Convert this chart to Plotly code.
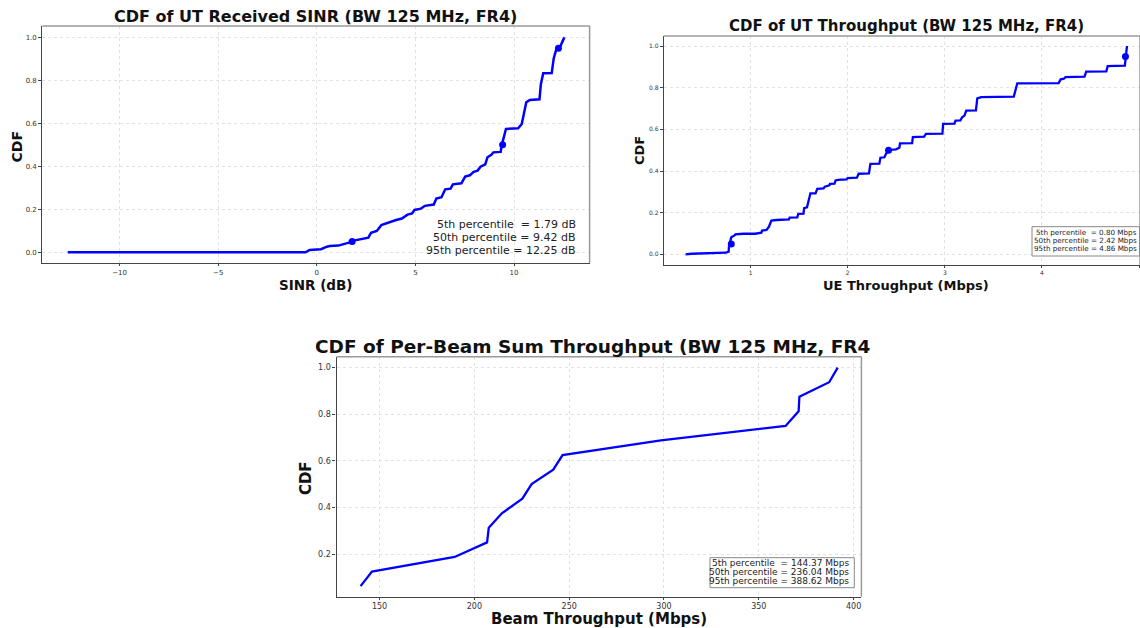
import plotly.graph_objects as go

# ---------------- data ----------------
# CDF of UT received SINR (polyline vertices)
sinr_db = [-12.63, -0.57, -0.37, 0.21, 0.51, 0.66, 1.09, 1.38, 1.72, 1.87, 2.26, 2.61, 2.75, 3.04,
           3.27, 3.53, 3.72, 4.02, 4.31, 4.60, 4.83, 4.95, 5.28, 5.48, 5.93, 6.06, 6.32, 6.51, 6.78,
           6.90, 7.33, 7.52, 7.76, 7.95, 8.15, 8.30, 8.54, 8.65, 8.85, 8.95, 9.32, 9.38, 9.59, 10.21,
           10.39, 10.51, 10.62, 10.80, 11.29, 11.36, 11.48, 11.91, 12.01, 12.14, 12.32, 12.44, 12.55]
sinr_cdf = [0.0, 0.0, 0.011, 0.014, 0.026, 0.029, 0.031, 0.037, 0.047, 0.054, 0.060, 0.068, 0.091, 0.099,
            0.126, 0.135, 0.141, 0.150, 0.157, 0.175, 0.181, 0.197, 0.203, 0.216, 0.222, 0.250, 0.256, 0.293, 0.296,
            0.316, 0.321, 0.352, 0.358, 0.374, 0.380, 0.398, 0.409, 0.442, 0.453, 0.465, 0.467, 0.500, 0.574, 0.577,
            0.597, 0.654, 0.698, 0.709, 0.712, 0.783, 0.833, 0.834, 0.902, 0.944, 0.952, 0.978, 1.0]
sinr_pct_values = [1.79, 9.42, 12.25]
pct_levels = [0.05, 0.50, 0.95]
sinr_pct_labels = ["5th percentile\u00a0 = 1.79 dB", "50th percentile = 9.42 dB", "95th percentile = 12.25 dB"]

# CDF of UT throughput (Mbps)
ut_tput = [0.329, 0.389, 0.744, 0.773, 0.776, 0.800, 0.833, 0.844, 0.922, 1.046, 1.110, 1.117, 1.163, 1.188,
           1.213, 1.266, 1.394, 1.401, 1.480, 1.490, 1.544, 1.550, 1.580, 1.597, 1.615, 1.668, 1.686, 1.750,
           1.764, 1.810, 1.817, 1.863, 1.874, 1.899, 1.988, 1.998, 2.094, 2.112, 2.218, 2.233, 2.325, 2.336,
           2.378, 2.396, 2.432, 2.496, 2.531, 2.538, 2.663, 2.670, 2.787, 2.805, 2.975, 2.982, 3.099, 3.110,
           3.160, 3.178, 3.202, 3.220, 3.320, 3.334, 3.373, 3.710, 3.728, 3.746, 4.172, 4.193, 4.225, 4.243,
           4.438, 4.456, 4.663, 4.677, 4.854, 4.861, 4.876]
ut_cdf = [0.0, 0.003, 0.008, 0.013, 0.037, 0.082, 0.091, 0.096, 0.099, 0.099, 0.104, 0.114, 0.117, 0.133,
          0.162, 0.165, 0.168, 0.176, 0.178, 0.194, 0.195, 0.222, 0.226, 0.253, 0.293, 0.293, 0.314, 0.317,
          0.325, 0.331, 0.338, 0.339, 0.355, 0.358, 0.360, 0.366, 0.368, 0.387, 0.389, 0.434, 0.435, 0.464,
          0.466, 0.485, 0.501, 0.504, 0.512, 0.533, 0.534, 0.563, 0.565, 0.578, 0.579, 0.626, 0.627, 0.642,
          0.643, 0.658, 0.666, 0.690, 0.691, 0.749, 0.755, 0.757, 0.792, 0.821, 0.822, 0.840, 0.843, 0.851,
          0.853, 0.877, 0.878, 0.904, 0.906, 0.949, 1.0]
ut_pct_values = [0.80, 2.42, 4.86]
ut_pct_labels = ["5th percentile\u00a0 = 0.80 Mbps", "50th percentile = 2.42 Mbps", "95th percentile = 4.86 Mbps"]

# CDF of per-beam sum throughput (Mbps)
beam_tput = [140.0, 146.0, 189.6, 206.7, 207.6, 214.5, 225.3, 230.2, 241.6, 246.5, 298.4, 364.1, 371.0,
             371.4, 387.1, 391.6]
beam_cdf = [0.0625, 0.125, 0.1875, 0.25, 0.3125, 0.375, 0.4375, 0.5, 0.5625, 0.625, 0.6875, 0.75, 0.8125,
            0.875, 0.9375, 1.0]
beam_pct_labels = ["5th percentile\u00a0 = 144.37 Mbps", "50th percentile = 236.04 Mbps", "95th percentile = 388.62 Mbps"]

titles = ["CDF of UT Received SINR (BW 125 MHz, FR4)",
          "CDF of UT Throughput (BW 125 MHz, FR4)",
          "CDF of Per-Beam Sum Throughput (BW 125 MHz, FR4"]
x_labels = ["SINR (dB)", "UE Throughput (Mbps)", "Beam Throughput (Mbps)"]
y_label = "CDF"

# ---------------- figure ----------------
W, H = 1140, 628
BLUE = "#0000ff"
FONT = "DejaVu Sans"

def px(x):
    return x / W

def py(y):
    return 1 - y / H

fig = go.Figure()
fig.add_trace(go.Scatter(x=sinr_db, y=sinr_cdf, mode="lines", line=dict(color=BLUE, width=2.5),
                         xaxis="x", yaxis="y", showlegend=False))
fig.add_trace(go.Scatter(x=sinr_pct_values, y=pct_levels, mode="markers",
                         marker=dict(color=BLUE, size=7), xaxis="x", yaxis="y", showlegend=False))
fig.add_trace(go.Scatter(x=ut_tput, y=ut_cdf, mode="lines", line=dict(color=BLUE, width=2.3),
                         xaxis="x2", yaxis="y2", showlegend=False))
fig.add_trace(go.Scatter(x=ut_pct_values, y=pct_levels, mode="markers",
                         marker=dict(color=BLUE, size=7), xaxis="x2", yaxis="y2", showlegend=False))
fig.add_trace(go.Scatter(x=beam_tput, y=beam_cdf, mode="lines", line=dict(color=BLUE, width=2.3),
                         xaxis="x3", yaxis="y3", showlegend=False))

grid = dict(showgrid=True, gridcolor="#e2e2e2", griddash="dot", gridwidth=0.8, zeroline=False,
            showline=True, linecolor="#444", linewidth=1.2, ticks="outside", ticklen=3,
            tickcolor="#444", mirror=False)

def xa(domain, rng, dtick, size, anchor):
    d = dict(grid, domain=domain, range=rng, dtick=dtick, anchor=anchor, ticklen=2,
             tickfont=dict(family=FONT, size=size, color="#333"))
    return d

def ya(domain, rng, tickvals, size, anchor):
    d = dict(grid, domain=domain, range=rng, tickvals=tickvals, tickformat=".1f", anchor=anchor,
             tickfont=dict(family=FONT, size=size, color="#333"))
    return d

yt = [0.0, 0.2, 0.4, 0.6, 0.8, 1.0]
fig.update_layout(
    width=W, height=H, margin=dict(l=0, r=0, t=0, b=0),
    paper_bgcolor="white", plot_bgcolor="white",
    font=dict(family=FONT, color="#111"),
    xaxis=xa([px(42.3), px(589.6)], [-13.92, 13.83], 5, 7, "y"),
    yaxis=ya([py(263), py(26)], [-0.05, 1.053], yt, 7, "x"),
    xaxis2=xa([px(663.8), 1.0], [0.105, 5.01], 1, 6, "y2"),
    yaxis2=ya([py(265), py(36)], [-0.051, 1.048], yt, 6, "x2"),
    xaxis3=xa([px(336.5), px(861.4)], [127.3, 404.1], 50, 8, "y3"),
    yaxis3=ya([py(596.7), py(356.7)], [0.017, 1.047], yt, 8, "x3"),
)

shapes = []
# lighter top/right spines
for xr, yr in [("x", "y"), ("x2", "y2"), ("x3", "y3")]:
    shapes.append(dict(type="line", xref=xr + " domain", yref=yr + " domain", x0=0, x1=1, y0=1, y1=1,
                       line=dict(color="#9a9a9a", width=1.5)))
    shapes.append(dict(type="line", xref=xr + " domain", yref=yr + " domain", x0=1, x1=1, y0=0, y1=1,
                       line=dict(color="#9a9a9a", width=1.5)))
# legend boxes
shapes.append(dict(type="rect", xref="paper", yref="paper", x0=px(1032), x1=px(1139.5), y0=py(256), y1=py(226.7),
                   line=dict(color="#888", width=1), fillcolor="white", layer="above"))
shapes.append(dict(type="rect", xref="paper", yref="paper", x0=px(710), x1=px(854.3), y0=py(587.7), y1=py(557.7),
                   line=dict(color="#888", width=1), fillcolor="white", layer="above"))
fig.update_layout(shapes=shapes)

ann = []
def text(x, y, s, size, bold=False, xanchor="center", angle=0, color="#111"):
    ann.append(dict(x=px(x), y=py(y), xref="paper", yref="paper", text=("<b>%s</b>" % s) if bold else s,
                    showarrow=False, xanchor=xanchor, yanchor="middle", textangle=angle,
                    font=dict(family=FONT, size=size, color=color)))

# titles
text(316, 16.5, titles[0], 16, True)
text(906, 25.7, titles[1], 15, True)
text(313, 346.7, titles[2], 18.5, True, xanchor="left")
# axis labels
text(316, 284.5, x_labels[0], 13.5, True)
text(906, 285, x_labels[1], 13, True)
text(599, 619, x_labels[2], 15, True)
text(16.5, 147, y_label, 14, True, angle=-90)
text(639, 151, y_label, 13, True, angle=-90)
text(305.6, 478.5, y_label, 15, True, angle=-90)
# percentile texts
for i, s in enumerate(sinr_pct_labels):
    text(578, 225 + 12.5 * i, s, 11, xanchor="right", color="#222")
for i, s in enumerate(ut_pct_labels):
    text(1138.6, 232.3 + 8.35 * i, s, 7.2, xanchor="right", color="#222")
for i, s in enumerate(beam_pct_labels):
    text(850.6, 563 + 8.85 * i, s, 9, xanchor="right", color="#222")
fig.update_layout(annotations=ann)

# remove the browser's default page margin so the figure sits at the window's top-left corner
fig.write_html("out.html", config={"displayModeBar": False},
               post_script="document.body.style.margin='0';document.body.style.overflow='hidden';")
